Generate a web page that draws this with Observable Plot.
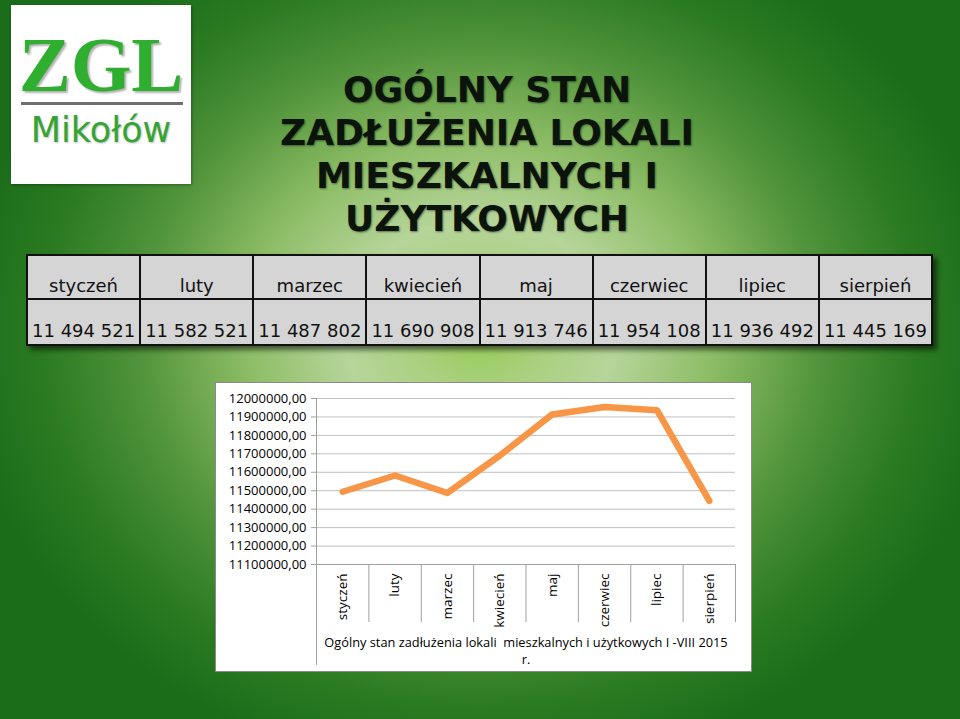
<!DOCTYPE html>
<html>
<head>
<meta charset="utf-8">
<script src="https://cdn.jsdelivr.net/npm/d3@7"></script>
<script src="https://cdn.jsdelivr.net/npm/@observablehq/plot@0.6"></script>
<style>
html, body { margin: 0; padding: 0; }
body {
  width: 960px; height: 719px; overflow: hidden; position: relative;
  background-color: #1b6d1a;
  background-image: radial-gradient(ellipse 520px 440px at 480px 335px,
    #94cc54 0%, #a9d07e 12%, #b6d59a 26%, #8dbd66 45%, #50933a 66%, #2b7b22 84%, #1b6d1a 100%);
}
#logo {
  position: absolute; left: 11px; top: 5px; width: 180px; height: 179px;
  background: #fff; box-shadow: 1px 1px 3px rgba(0,0,0,0.35);
}
#logo .zgl {
  position: absolute; left: 0; width: 180px; top: 16.5px; text-align: center;
  font-family: "Liberation Serif", serif; font-weight: bold; font-size: 78px; line-height: 86px;
  color: #2fae2f; text-shadow: 2px 2px 2px rgba(0,0,0,0.3);
}
#logo .bar {
  position: absolute; left: 10px; top: 97px; width: 162px; height: 3px; background: #6f6f6f;
}
#logo .miko {
  position: absolute; left: 0; width: 180px; top: 104.5px; text-align: center;
  font-family: "DejaVu Sans", sans-serif; font-size: 35px; line-height: 41px; color: #34a534;
  text-shadow: 1px 1px 2px rgba(0,0,0,0.25);
}
#title {
  position: absolute; left: 212px; width: 550px; top: 68px; text-align: center;
  font-family: "Comic Sans MS", "DejaVu Sans", sans-serif; font-weight: bold; font-size: 36px;
  line-height: 43px; color: #0b140b; text-shadow: 1px 1px 2px rgba(0,0,0,0.45);
}
#tbl {
  position: absolute; left: 26px; top: 254px; width: 907px; height: 91px;
  border-collapse: collapse; table-layout: fixed;
  box-shadow: 4px 4px 5px rgba(0,0,0,0.55);
  font-family: "Comic Sans MS", "DejaVu Sans", sans-serif; font-size: 18px; color: #111;
}
#tbl td {
  background: #d5d5d5; border: 2px solid #111; text-align: center; vertical-align: bottom;
  padding: 0 0 3px 0; white-space: nowrap; overflow: hidden;
}
#tbl tr.h td { height: 40px; padding-bottom: 2px; }
#tbl tr.v td { height: 41px; }
#chartbox {
  position: absolute; left: 216px; top: 383px; width: 535px; height: 288px;
  background: #fff; outline: 1px solid #8a8a8a;
}
#chartbox svg { position: absolute; left: 0; top: 0; }
</style>
</head>
<body>
<div id="logo"><div class="zgl">ZGL</div><div class="bar"></div><div class="miko">Mikołów</div></div>
<div id="title"></div>
<table id="tbl"></table>
<div id="chartbox"></div>
<script>
const months = ["styczeń", "luty", "marzec", "kwiecień", "maj", "czerwiec", "lipiec", "sierpień"];
const debt = [11494521, 11582521, 11487802, 11690908, 11913746, 11954108, 11936492, 11445169];
const titleLines = ["OGÓLNY STAN", "ZADŁUŻENIA LOKALI", "MIESZKALNYCH I", "UŻYTKOWYCH"];
const chartTitle = "Ogólny stan zadłużenia lokali  mieszkalnych i użytkowych I -VIII 2015";
const chartTitleEnd = "r.";
const yDomain = [11100000, 12000000];

const locale = d3.formatLocale({decimal: ",", thousands: " ", grouping: [3], currency: ["", ""]});
const yFmt = locale.format(".2f");
const tFmt = locale.format(",d");

document.getElementById("title").innerHTML = titleLines.join("<br>");

const tbl = document.getElementById("tbl");
tbl.innerHTML =
  '<tr class="h">' + months.map(m => `<td>${m}</td>`).join("") + "</tr>" +
  '<tr class="v">' + debt.map(v => `<td>${tFmt(v)}</td>`).join("") + "</tr>";

const data = months.map((m, i) => ({i, month: m, value: debt[i]}));

const chart = Plot.plot({
  width: 535,
  height: 288,
  marginLeft: 100,
  marginRight: 16,
  marginTop: 15,
  marginBottom: 107,
  style: {fontFamily: "'Open Sans', sans-serif", fontSize: "13px", color: "#000", background: "transparent"},
  x: {domain: [0, months.length]},
  y: {domain: yDomain},
  marks: [
    Plot.gridY({ticks: 10, stroke: "#c0c0c0", strokeOpacity: 1}),
    Plot.axisY({ticks: 10, tickSize: 5, tickPadding: 5, tickFormat: yFmt, stroke: "#a0a0a0", fill: "#000", label: null}),
    Plot.ruleY([yDomain[0]], {stroke: "#a0a0a0"}),
    Plot.ruleX([0], {stroke: "#a0a0a0", insetBottom: -101}),
    Plot.axisX(d3.range(months.length + 1), {tickSize: 58, tickFormat: () => "", stroke: "#a0a0a0", label: null}),
    Plot.axisX(months.map((_, i) => i + 0.5), {tickSize: 0, tickPadding: 9, tickRotate: -90,
      tickFormat: d => months[Math.floor(d)], fontSize: 13.5, fill: "#000", label: null}),
    Plot.line(data, {x: d => d.i + 0.5, y: "value", stroke: "#f79646", strokeWidth: 6.5,
      strokeLinejoin: "round", strokeLinecap: "round"}),
    Plot.text([chartTitle + "\n" + chartTitleEnd], {frameAnchor: "bottom", lineAnchor: "top", dy: 71,
      fontSize: 12.8, lineHeight: 1.3, fill: "#000"})
  ]
});
document.getElementById("chartbox").appendChild(chart);
</script>
</body>
</html>
